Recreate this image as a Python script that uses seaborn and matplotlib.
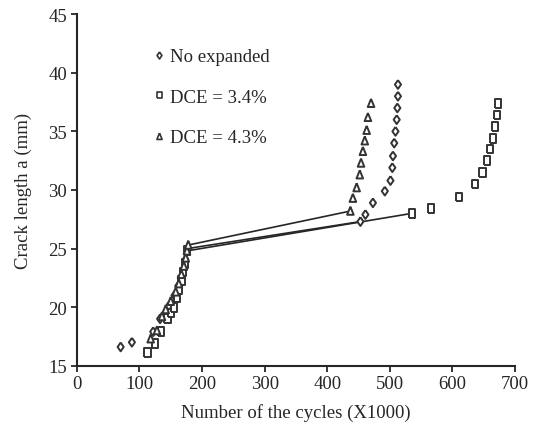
import numpy as np
import pandas as pd
import matplotlib
matplotlib.use("Agg")
import matplotlib.pyplot as plt
import seaborn as sns

# Crack growth data: number of cycles (x1000) vs crack length (mm)
series_names = ["No expanded", "DCE = 3.4%", "DCE = 4.3%"]

no_exp_cycles = [70, 88, 122, 133, 140, 147, 156, 162, 166, 170, 173, 177,
                 453, 461, 473, 492, 501, 504, 505, 507, 509, 511, 512, 513, 513]
no_exp_crack = [16.6, 17.0, 17.9, 19.0, 19.4, 20.1, 21.0, 21.8, 22.5, 23.2, 24.0, 25.0,
                27.3, 27.9, 28.9, 29.9, 30.8, 31.9, 32.9, 34.0, 35.0, 36.0, 37.0, 38.0, 39.0]

dce34_cycles = [113, 125, 135, 145, 150, 155, 160, 163, 167, 170, 173, 176,
                535, 566, 610, 636, 648, 655, 660, 665, 668, 671, 673]
dce34_crack = [16.1, 16.9, 17.9, 19.0, 19.5, 20.0, 20.8, 21.5, 22.3, 23.0, 23.7, 24.8,
               28.0, 28.4, 29.4, 30.5, 31.5, 32.5, 33.5, 34.4, 35.4, 36.4, 37.4]

dce43_cycles = [118, 128, 136, 142, 150, 158, 163, 167, 171, 174, 176, 178,
                437, 441, 447, 452, 454, 457, 460, 463, 465, 470]
dce43_crack = [17.3, 18.0, 19.2, 19.8, 20.5, 21.3, 22.0, 22.8, 23.5, 24.2, 24.8, 25.3,
               28.2, 29.3, 30.2, 31.3, 32.3, 33.3, 34.2, 35.1, 36.2, 37.4]

# Index of the last point before the jump in each series
jump_index = [11, 11, 11]

x_ticks = [0, 100, 200, 300, 400, 500, 600, 700]
y_ticks = [15, 20, 25, 30, 35, 40, 45]

all_x = [no_exp_cycles, dce34_cycles, dce43_cycles]
all_y = [no_exp_crack, dce34_crack, dce43_crack]

frames = []
links = []
for name, xs, ys, j in zip(series_names, all_x, all_y, jump_index):
    frames.append(pd.DataFrame({"cycles": xs, "crack": ys, "series": name}))
    links.append(pd.DataFrame({"cycles": xs[j:j + 2], "crack": ys[j:j + 2], "series": name}))
points = pd.concat(frames, ignore_index=True)
jumps = pd.concat(links, ignore_index=True)

sns.set_style("ticks")
plt.rcParams["font.family"] = ["Liberation Serif", "DejaVu Serif"]

ink = "#262626"
fig = plt.figure(figsize=(5.41, 4.35), dpi=100)
ax = fig.add_axes([0.142, 0.157, 0.810, 0.808])

sns.lineplot(data=jumps, x="cycles", y="crack", units="series", estimator=None,
             sort=False, color=ink, linewidth=1.2, legend=False, ax=ax)

# Slightly tall open markers: diamond, rectangle, triangle
diamond = [(0, 1), (0.7, 0), (0, -1), (-0.7, 0), (0, 1)]
rect = [(-0.72, -1), (0.72, -1), (0.72, 1), (-0.72, 1), (-0.72, -1)]
tri = [(0, 1), (0.75, -0.85), (-0.75, -0.85), (0, 1)]
markers = {"No expanded": diamond, "DCE = 3.4%": rect, "DCE = 4.3%": tri}
sns.scatterplot(data=points, x="cycles", y="crack", style="series",
                style_order=series_names, markers=markers, color="white",
                edgecolor="#333333", linewidth=1.4, s=40, ax=ax, zorder=3)

ax.set_xlim(0, 700)
ax.set_ylim(15, 45)
ax.set_xticks(x_ticks)
ax.set_yticks(y_ticks)
ax.tick_params(axis="both", direction="out", length=4, width=1.3, colors=ink,
               labelsize=13.5, pad=3)
for side in ["top", "right"]:
    ax.spines[side].set_visible(False)
for side in ["left", "bottom"]:
    ax.spines[side].set_color(ink)
    ax.spines[side].set_linewidth(1.5)

ax.set_xlabel("Number of the cycles (X1000)", fontsize=13.5, color=ink, labelpad=8)
ax.set_ylabel("Crack length a (mm)", fontsize=13.5, color=ink, labelpad=12)

handles, labels = ax.get_legend_handles_labels()
for h in handles:
    h.set_markersize(5)
    h.set_markeredgewidth(1.2)
    h.set_markeredgecolor("#333333")
    h.set_markerfacecolor("white")
ax.legend(handles, labels, loc="upper left", bbox_to_anchor=(0.155, 0.93),
          frameon=False, fontsize=13.5, handlelength=0.5, handletextpad=0.35,
          labelspacing=1.25, borderpad=0.0)

fig.savefig("out.png", dpi=100)
